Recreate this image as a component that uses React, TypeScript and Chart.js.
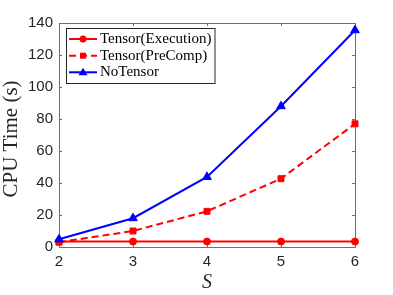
import React, { useEffect, useRef } from "react";
import { Chart, registerables } from "chart.js";

Chart.register(...registerables);

const sValues = [2, 3, 4, 5, 6];
const tensorExecution = [3.4, 3.4, 3.4, 3.4, 3.4];
const tensorPreComp = [3.0, 10.0, 22.3, 42.7, 77.0];
const noTensor = [4.8, 18.0, 43.8, 88.0, 135.5];
const seriesLabels = ["Tensor(Execution)", "Tensor(PreComp)", "NoTensor"];
const yTicks = [0, 20, 40, 60, 80, 100, 120, 140];
const xTicks = [2, 3, 4, 5, 6];
const xTitle = "S";
const yTitle = "CPU Time (s)";

const RED = "#ff0000";
const BLUE = "#0000ff";
const AXIS = "#6e6e6e";
const TEXT = "#262626";

const boxPlugin = {
  id: "matlabBox",
  beforeDatasetsDraw(chart: any) {
    const { ctx, chartArea: a, scales } = chart;
    ctx.save();
    ctx.strokeStyle = AXIS;
    ctx.lineWidth = 1;
    ctx.beginPath();
    ctx.rect(Math.round(a.left) + 0.5, Math.round(a.top) + 0.5, Math.round(a.right - a.left), Math.round(a.bottom - a.top));
    ctx.stroke();
    const tl = 3;
    ctx.beginPath();
    xTicks.forEach((v) => {
      const x = Math.round(scales.x.getPixelForValue(v)) + 0.5;
      ctx.moveTo(x, a.bottom);
      ctx.lineTo(x, a.bottom - tl);
      ctx.moveTo(x, a.top);
      ctx.lineTo(x, a.top + tl);
    });
    yTicks.forEach((v) => {
      const y = Math.round(scales.y.getPixelForValue(v)) + 0.5;
      ctx.moveTo(a.left, y);
      ctx.lineTo(a.left + tl, y);
      ctx.moveTo(a.right, y);
      ctx.lineTo(a.right - tl, y);
    });
    ctx.stroke();
    ctx.restore();
  },
  afterDraw(chart: any) {
    const { ctx, chartArea: a } = chart;
    ctx.save();
    // axis titles
    ctx.fillStyle = TEXT;
    ctx.textAlign = "center";
    ctx.textBaseline = "alphabetic";
    ctx.font = "italic 20px 'Liberation Serif'";
    ctx.fillText(xTitle, (a.left + a.right) / 2, 288);
    ctx.save();
    ctx.translate(16.7, 139);
    ctx.rotate(-Math.PI / 2);
    ctx.font = "21px 'Liberation Serif'";
    ctx.fillText(yTitle, 0, 0);
    ctx.restore();
    // legend
    const bx = 66.5, by = 28.5, bw = 148.5, bh = 55;
    ctx.fillStyle = "#ffffff";
    ctx.fillRect(bx, by, bw, bh);
    ctx.strokeStyle = TEXT;
    ctx.lineWidth = 1;
    ctx.strokeRect(bx, by, bw, bh);
    const rows = [39, 55.7, 72.3];
    chart.data.datasets.forEach((ds: any, i: number) => {
      const y = rows[i];
      ctx.strokeStyle = ds.borderColor;
      ctx.lineWidth = ds.borderWidth;
      ctx.setLineDash(ds.borderDash || []);
      ctx.beginPath();
      ctx.moveTo(69, y);
      ctx.lineTo(97, y);
      ctx.stroke();
      ctx.setLineDash([]);
      ctx.fillStyle = ds.borderColor;
      ctx.beginPath();
      if (ds.pointStyle === "circle") {
        ctx.arc(83, y, 3.5, 0, Math.PI * 2);
      } else if (ds.pointStyle === "rect") {
        ctx.rect(80, y - 3, 6, 6);
      } else {
        ctx.moveTo(83, y - 4.5);
        ctx.lineTo(87.5, y + 3);
        ctx.lineTo(78.5, y + 3);
        ctx.closePath();
      }
      ctx.fill();
      ctx.fillStyle = "#000000";
      ctx.font = "15px 'Liberation Serif'";
      ctx.textBaseline = "middle";
      ctx.textAlign = "left";
      ctx.fillText(ds.label, 100, y);
    });
    ctx.restore();
  },
};

export default function App() {
  const ref = useRef<HTMLCanvasElement | null>(null);
  useEffect(() => {
    if (!ref.current) return;
    const chart = new Chart(ref.current, {
      type: "line",
      data: {
        datasets: [
          {
            label: seriesLabels[0],
            data: sValues.map((s, i) => ({ x: s, y: tensorExecution[i] })),
            borderColor: RED,
            backgroundColor: RED,
            borderWidth: 2,
            pointStyle: "circle",
            pointRadius: 3.5,
            pointBorderWidth: 1,
            order: 2,
            clip: false,
          },
          {
            label: seriesLabels[1],
            data: sValues.map((s, i) => ({ x: s, y: tensorPreComp[i] })),
            borderColor: RED,
            backgroundColor: RED,
            borderWidth: 2,
            borderDash: [7, 4],
            pointStyle: "rect",
            pointRadius: 4.2,
            pointBorderWidth: 1,
            order: 1,
            clip: false,
          },
          {
            label: seriesLabels[2],
            data: sValues.map((s, i) => ({ x: s, y: noTensor[i] })),
            borderColor: BLUE,
            backgroundColor: BLUE,
            borderWidth: 2,
            pointStyle: "triangle",
            pointRadius: 5,
            pointBorderWidth: 1,
            order: 0,
            clip: false,
          },
        ] as any,
      },
      options: {
        animation: false,
        responsive: false,
        layout: { padding: { top: 23, right: 38, left: 0, bottom: 1 } },
        plugins: { legend: { display: false }, tooltip: { enabled: false } },
        scales: {
          x: {
            type: "linear",
            min: 2,
            max: 6,
            afterFit: (s: any) => { s.height = 47; },
            afterBuildTicks: (s: any) => { s.ticks = xTicks.map((v) => ({ value: v })); },
            grid: { display: false, drawTicks: false },
            border: { display: false },
            ticks: { padding: 6, color: TEXT, font: { family: "'Liberation Sans'", size: 15 } },
            title: { display: false },
          },
          y: {
            type: "linear",
            min: 0,
            max: 140,
            afterFit: (s: any) => { s.width = 59; },
            afterBuildTicks: (s: any) => { s.ticks = yTicks.map((v) => ({ value: v })); },
            grid: { display: false, drawTicks: false },
            border: { display: false },
            ticks: { padding: 6, color: TEXT, font: { family: "'Liberation Sans'", size: 15 } },
            title: { display: false },
          },
        },
      } as any,
      plugins: [boxPlugin],
    });
    return () => chart.destroy();
  }, []);
  return (
    <canvas
      ref={ref}
      width={393}
      height={295}
      style={{ position: "absolute", left: 0, top: 0, width: 393, height: 295 }}
    />
  );
}
